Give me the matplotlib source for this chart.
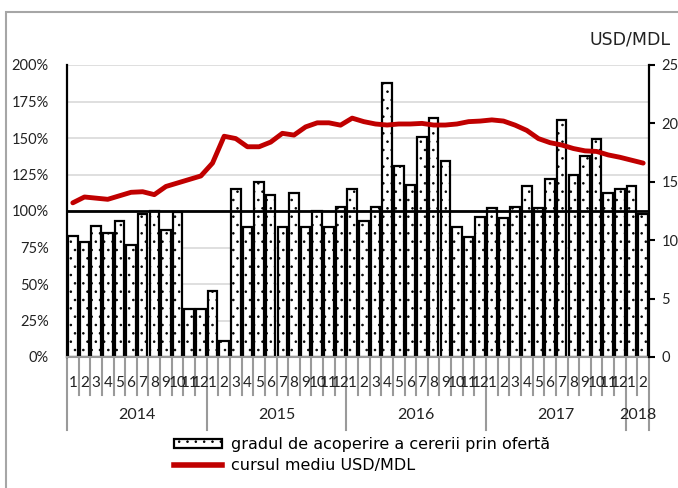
import numpy as np
import matplotlib.pyplot as plt
from matplotlib.patches import Rectangle, Patch
from matplotlib.lines import Line2D
import matplotlib.transforms as mtransforms

#%% Data
years = ['2014', '2015', '2016', '2017', '2018']
months = [str(m) for m in range(1, 13)] * 4 + ['1', '2']

# gradul de acoperire a cererii prin oferta, %
cover = [83, 79, 90, 85, 93, 77, 98, 100, 87, 99, 33, 33,
         45, 11, 115, 89, 120, 111, 89, 112, 89, 100, 89, 103,
         115, 93, 103, 188, 131, 118, 151, 164, 134, 89, 82, 96,
         102, 95, 103, 117, 102, 122, 162, 125, 138, 149, 112, 115,
         117, 98]

# cursul mediu USD/MDL
rate = [13.2, 13.7, 13.6, 13.5, 13.8, 14.1, 14.15, 13.9, 14.6, 14.9, 15.2, 15.5,
        16.6, 18.9, 18.7, 18.0, 18.0, 18.4, 19.15, 19.0, 19.7, 20.05, 20.05, 19.85,
        20.45, 20.15, 19.95, 19.86, 19.95, 19.95, 20.0, 19.86, 19.86, 19.95, 20.15, 20.2,
        20.3, 20.2, 19.85, 19.4, 18.7, 18.35, 18.15, 17.85, 17.65, 17.6, 17.3, 17.1,
        16.85, 16.6]

left_ticks = [0, 25, 50, 75, 100, 125, 150, 175, 200]
right_ticks = [0, 5, 10, 15, 20, 25]

lab1 = 'gradul de acoperire a cererii prin ofertă'
lab2 = 'cursul mediu USD/MDL'

#%% Figure
plt.rcParams['font.family'] = ['Lato', 'DejaVu Sans']
plt.rcParams['hatch.linewidth'] = 0.6
W, H = 678, 488
fig = plt.figure(figsize=(W / 100, H / 100), dpi=100)
ax = fig.add_axes([67 / W, 1 - 357 / H, (649 - 67) / W, (357 - 65) / H])
ax2 = ax.twinx()

x = np.arange(len(cover))
red = '#C00000'
sep_col = '#9a9a9a'
txt_col = '#222222'

ax.bar(x, cover, width=0.82, color='white', edgecolor='black', linewidth=1.6,
       hatch='..', zorder=2)
ax.axhline(100, color='black', lw=2, zorder=3)
ax.set_xlim(-0.5, len(cover) - 0.5)
ax.set_ylim(0, 200)
ax.set_yticks(left_ticks)
ax.set_yticklabels([f'{t}%' for t in left_ticks], fontsize=10.5, color=txt_col)
ax.tick_params(axis='y', length=0, pad=13)
ax.set_xticks([])
ax.grid(axis='y', color='#d9d9d9', lw=1.2, zorder=0)
ax.set_axisbelow(True)
for s in ['top', 'right']:
    ax.spines[s].set_visible(False)
ax.spines['left'].set_linewidth(1.6)
ax.spines['bottom'].set_color(sep_col)
ax.spines['bottom'].set_linewidth(1.5)

ax2.plot(x, rate, color=red, lw=3.5, solid_capstyle='round', zorder=4)
ax2.set_ylim(0, 25)
ax2.set_yticks(right_ticks)
ax2.tick_params(axis='y', length=4, width=1.5, direction='out', pad=5,
                labelsize=10.5, labelcolor=txt_col)
for s in ['top', 'left', 'bottom']:
    ax2.spines[s].set_visible(False)
ax2.spines['right'].set_linewidth(1.6)
ax2.set_xlim(-0.5, len(cover) - 0.5)

#%% Category axis (months / years)
tr = mtransforms.blended_transform_factory(ax.transData, ax.transAxes)
for i, m in enumerate(months):
    ax.text(i, -0.09, m, transform=tr, ha='center', va='center', fontsize=11,
            color=txt_col)
year_bounds = [-0.5, 11.5, 23.5, 35.5, 47.5, 49.5]
for b in np.arange(0.5, len(cover) - 1, 1.0):
    if b not in year_bounds:
        ax.plot([b, b], [0, -0.13], transform=tr, color=sep_col, lw=1.5, clip_on=False)
for b in year_bounds:
    ax.plot([b, b], [0, -0.25], transform=tr, color=sep_col, lw=1.5, clip_on=False)
for k, y in enumerate(years):
    c = (year_bounds[k] + year_bounds[k + 1]) / 2
    ax.text(c, -0.2, y, transform=tr, ha='center', va='center', fontsize=11.5,
            color=txt_col)

fig.text(630 / W, 1 - 40 / H, 'USD/MDL', ha='center', va='center', fontsize=12.5,
         family=['DejaVu Sans'], color=txt_col)

#%% Legend
handles = [Patch(facecolor='white', edgecolor='black', linewidth=1.6, hatch='..'),
           Line2D([0], [0], color=red, lw=4)]
fig.legend(handles, [lab1, lab2], loc='upper left',
           bbox_to_anchor=(174 / W, 1 - 437 / H), frameon=False,
           prop={'family': ['DejaVu Sans'], 'size': 11.5},
           handlelength=3.0, handleheight=0.45, handletextpad=0.55, labelspacing=0.35,
           borderpad=0, borderaxespad=0)

# partial outer frame (left and top edges)
fig.add_artist(Rectangle((6 / W, -0.1), 1.5, 1.1 - 12 / H, transform=fig.transFigure,
                         fill=False, edgecolor='#a6a6a6', lw=1.5))

fig.savefig('out.png', dpi=100)
